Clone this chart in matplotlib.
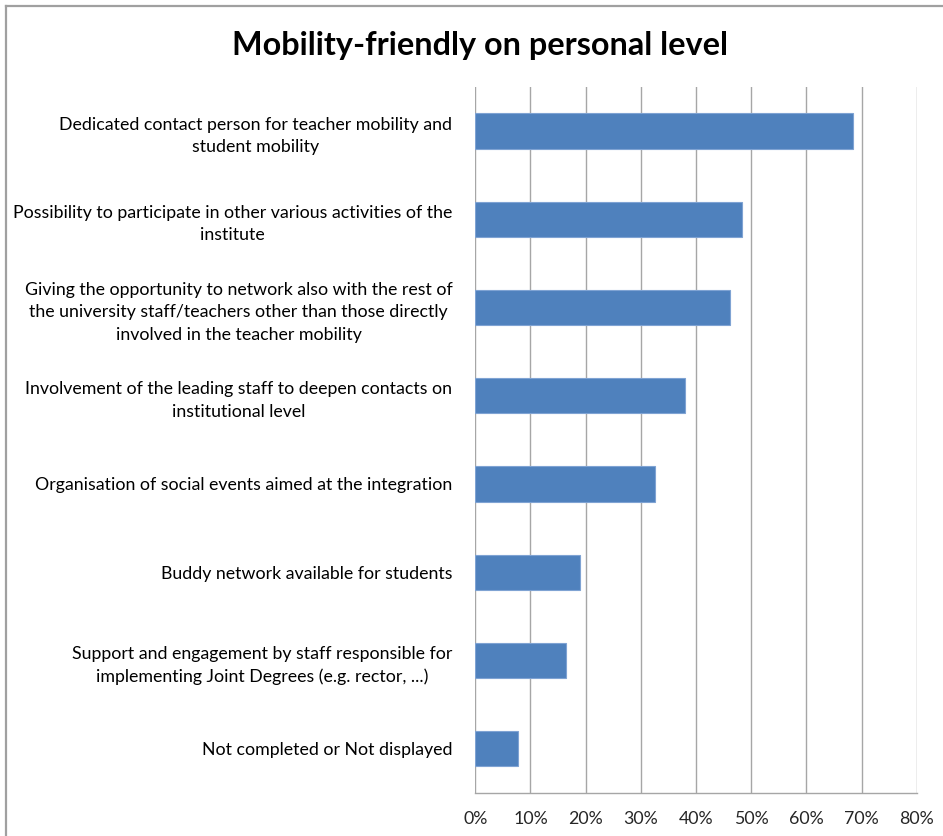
import matplotlib
matplotlib.use("Agg")
import matplotlib.pyplot as plt
from matplotlib.lines import Line2D
from matplotlib.ticker import FuncFormatter

plt.rcParams['font.family'] = ['Lato', 'DejaVu Sans']

title = "Mobility-friendly on personal level"

categories = [
    "Dedicated contact person for teacher mobility and\nstudent mobility",
    "Possibility to participate in other various activities of the\ninstitute",
    "Giving the opportunity to network also with the rest of\nthe university staff/teachers other than those directly\ninvolved in the teacher mobility",
    "Involvement of the leading staff to deepen contacts on\ninstitutional level",
    "Organisation of social events aimed at the integration",
    "Buddy network available for students",
    "Support and engagement by staff responsible for\nimplementing Joint Degrees (e.g. rector, ...)",
    "Not completed or Not displayed",
]
shares = [68.4, 48.4, 46.1, 38.0, 32.6, 19.0, 16.4, 7.8]
x_ticks = [0, 10, 20, 30, 40, 50, 60, 70, 80]

W, H = 943, 836
fig = plt.figure(figsize=(W / 100, H / 100), dpi=100)
fig.patch.set_facecolor("white")

# plot area in pixel terms
left, right, top, bottom = 475.3, 916.7, 87.0, 792.7
ax = fig.add_axes([left / W, 1 - bottom / H, (right - left) / W, (bottom - top) / H])

ypos = list(range(len(categories)))
ax.barh(ypos, shares, height=0.4, color="#4F81BD", edgecolor="#7FA3D3",
        linewidth=0.8, zorder=3)

ax.set_ylim(len(categories) - 0.5, -0.5)
ax.set_xlim(0, 80)
ax.set_xticks(x_ticks)
ax.xaxis.set_major_formatter(FuncFormatter(lambda v, p: f"{int(round(v))}%"))
ax.set_yticks(ypos)
ax.set_yticklabels(categories, fontsize=12.8, color="#000000",
                   multialignment="center", linespacing=1.5)

ax.grid(axis="x", color="#A6A6A6", linewidth=1.0, zorder=0)
ax.set_axisbelow(True)
for side in ("top", "right", "left"):
    ax.spines[side].set_visible(False)
ax.spines["bottom"].set_color("#A6A6A6")
ax.spines["bottom"].set_linewidth(1.0)
ax.tick_params(axis="y", length=0, pad=16.5)
ax.tick_params(axis="x", length=0, pad=13.5, labelsize=12.8, labelcolor="#262626")

fig.text(480 / W, 1 - 45 / H, title, ha="center", va="center",
         fontsize=23.3, fontweight="bold", color="#000000")

# chart frame (top and left edges)
fig.add_artist(Line2D([6 / W, 1.0], [1 - 6 / H, 1 - 6 / H], transform=fig.transFigure,
                      color="#A0A0A0", linewidth=1.6))
fig.add_artist(Line2D([6 / W, 6 / W], [0.0, 1 - 6 / H], transform=fig.transFigure,
                      color="#A0A0A0", linewidth=1.6))

fig.savefig("out.png", dpi=100, facecolor="white")
